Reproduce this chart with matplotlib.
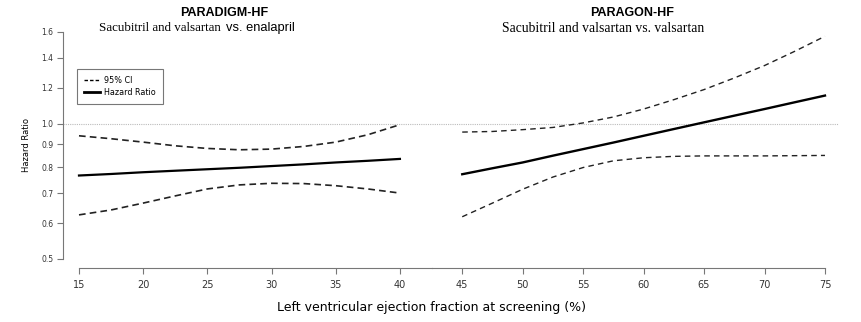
import numpy as np
import matplotlib
matplotlib.use("Agg")
import matplotlib.pyplot as plt
from matplotlib.lines import Line2D

# PARADIGM-HF (sacubitril/valsartan vs enalapril)
lvef_a = [15, 17.5, 20, 22.5, 25, 27.5, 30, 32.5, 35, 37.5, 40]
hr_a = [0.766, 0.772, 0.779, 0.785, 0.791, 0.797, 0.804, 0.811, 0.819, 0.826, 0.834]
hi_a = [0.939, 0.925, 0.909, 0.892, 0.880, 0.874, 0.877, 0.889, 0.909, 0.944, 0.994]
lo_a = [0.626, 0.642, 0.665, 0.690, 0.715, 0.730, 0.736, 0.735, 0.727, 0.715, 0.700]

# PARAGON-HF (sacubitril/valsartan vs valsartan)
lvef_b = [45, 47.5, 50, 52.5, 55, 57.5, 60, 62.5, 65, 67.5, 70, 72.5, 75]
hr_b = [0.771, 0.795, 0.819, 0.848, 0.877, 0.907, 0.939, 0.972, 1.006, 1.041, 1.077, 1.115, 1.154]
hi_b = [0.957, 0.960, 0.969, 0.980, 1.003, 1.034, 1.077, 1.130, 1.190, 1.263, 1.346, 1.448, 1.564]
lo_b = [0.620, 0.665, 0.714, 0.760, 0.798, 0.826, 0.839, 0.845, 0.847, 0.847, 0.847, 0.848, 0.849]

yticks = [0.5, 0.6, 0.7, 0.8, 0.9, 1.0, 1.2, 1.4, 1.6]
ytick_labels = ["0.5", "0.6", "0.7", "0.8", "0.9", "1.0", "1.2", "1.4", "1.6"]
xticks_a = [15, 20, 25, 30, 35, 40]
xticks_b = [45, 50, 55, 60, 65, 70, 75]

W, H = 862, 322
fig = plt.figure(figsize=(W / 100, H / 100), dpi=100)

bot = 1 - 267.7 / H
top = 1 - 20 / H
x0, xs, x1 = 63 / W, 432 / W, 839 / W
axA = fig.add_axes([x0, bot, xs - x0, top - bot])
axB = fig.add_axes([xs, bot, x1 - xs, top - bot])

ylo, yhi = 0.4775, 1.70
gray = "#777777"
for ax in (axA, axB):
    ax.set_yscale("log")
    ax.set_ylim(ylo, yhi)
    ax.axhline(1.0, color="#bbbbbb", lw=0.8, ls=(0, (1, 1)), zorder=1)
    for s in ("top", "right"):
        ax.spines[s].set_visible(False)
    ax.spines["bottom"].set_color(gray)
    ax.spines["left"].set_color(gray)
    ax.tick_params(axis="x", direction="out", length=4, color=gray,
                   labelsize=7, labelcolor="#333333", pad=5)
    ax.minorticks_off()
    ax.set_facecolor("none")

axA.set_xlim(15 - 16 / 12.84, 42.5)
axB.set_xlim(42.5, 75 + 14 / 12.07)
axA.spines["bottom"].set_bounds(15, 42.5)
axB.spines["bottom"].set_bounds(42.5, 75)
axA.set_xticks(xticks_a)
axB.set_xticks(xticks_b)

axA.set_yticks(yticks)
axA.set_yticklabels(ytick_labels)
axA.spines["left"].set_bounds(0.5, 1.6)
axA.tick_params(axis="y", direction="out", length=4, color=gray,
                labelsize=5.5, labelcolor="#333333", pad=3)
axA.minorticks_off()
axB.spines["left"].set_visible(False)
axB.set_yticks([])
axB.minorticks_off()

# curves
axA.plot(lvef_a, hr_a, color="black", lw=1.6, zorder=3)
axA.plot(lvef_a, hi_a, color="#222222", lw=1.2, ls=(0, (4, 2.5)), zorder=3)
axA.plot(lvef_a, lo_a, color="#222222", lw=1.2, ls=(0, (4, 2.5)), zorder=3)
axB.plot(lvef_b, hr_b, color="black", lw=1.7, zorder=3)
axB.plot(lvef_b, hi_b, color="#222222", lw=1.0, ls=(0, (4, 3)), zorder=3)
axB.plot(lvef_b, lo_b, color="#222222", lw=1.0, ls=(0, (4, 3)), zorder=3)

# legend
handles = [Line2D([], [], color="black", lw=1.0, ls=(0, (2.5, 1.5))),
           Line2D([], [], color="black", lw=2.0)]
leg = axA.legend(handles, ["95% CI", "Hazard Ratio"], loc="upper left",
                 bbox_to_anchor=((77 - 63) / (432 - 63), 1 - (69 - 20) / 247.7),
                 fontsize=5.8, frameon=True, fancybox=False, handlelength=2.0,
                 handletextpad=0.4, borderpad=0.9, labelspacing=0.3,
                 borderaxespad=0)
leg.get_frame().set_edgecolor("#555555")
leg.get_frame().set_linewidth(0.8)

# titles
fig.text(224 / W, 1 - 13 / H, "PARADIGM-HF", ha="center", va="center",
         fontsize=9, fontweight="bold", family="Liberation Sans")
fig.text(221 / W, 1 - 28 / H, "Sacubitril and valsartan", ha="right", va="center",
         fontsize=9.4, family="Liberation Serif")
fig.text(226 / W, 1 - 28 / H, "vs. enalapril", ha="left", va="center",
         fontsize=9.3, family="Liberation Sans")
fig.text(632 / W, 1 - 13 / H, "PARAGON-HF", ha="center", va="center",
         fontsize=9, fontweight="bold", family="Liberation Sans")
fig.text(603.5 / W, 1 - 28 / H, "Sacubitril and valsartan vs. valsartan",
         ha="center", va="center", fontsize=9.8, family="Liberation Serif")

fig.text(432 / W, 1 - 307 / H, "Left ventricular ejection fraction at screening (%)",
         ha="center", va="center", fontsize=9, family="DejaVu Sans")
fig.text(27 / W, 1 - 145 / H, "Hazard Ratio", ha="center", va="center",
         rotation=90, fontsize=6, family="DejaVu Sans")

fig.savefig("out.png", dpi=100)
